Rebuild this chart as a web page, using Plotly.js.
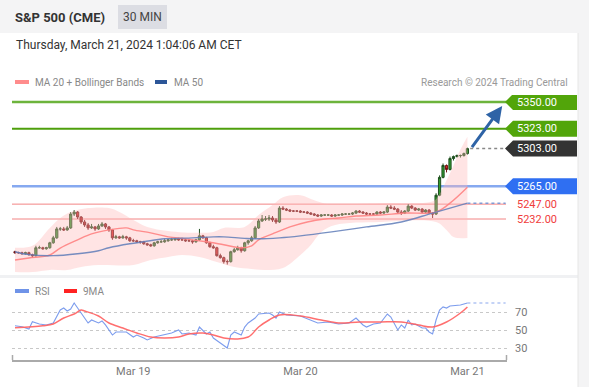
<!DOCTYPE html>
<html><head><meta charset="utf-8">
<script src="https://cdn.plot.ly/plotly-3.0.1.min.js"></script>
<style>html,body{margin:0;padding:0;background:#fff;overflow:hidden}#chart{width:589px;height:387px}</style>
</head><body><div id="chart"></div>
<script>
// ---------- data ----------
const opens = [5199,5198,5198,5197,5198,5196,5195,5203,5203,5202,
 5203,5208,5213,5222,5222,5221,5223,5237,5239,5234,
 5229,5226,5223,5224,5222,5225,5227,5224,5221,5213,
 5214,5213,5214,5213,5210,5210,5209,5209,5207,5206,
 5205,5208,5209,5209,5210,5211,5211,5212,5211,5211,
 5210,5210,5209,5211,5215,5213,5208,5204,5203,5195,
 5193,5189,5189,5199,5201,5203,5200,5208,5210,5213,
 5223,5230,5232,5232,5233,5231,5229,5243,5242,5241,
 5240,5240,5240,5239,5239,5238,5237,5236,5235,5236,
 5236,5236,5235,5236,5236,5237,5237,5237,5238,5240,
 5239,5238,5237,5237,5237,5239,5238,5239,5244,5243,
 5242,5239,5238,5240,5245,5243,5241,5242,5239,5241,
 5238,5237,5256,5274,5286,5282,5293,5295,5296,5296,
 5298];
const highs = [5200,5199,5199,5199,5199,5197,5205,5205,5204,5204,
 5209,5215,5224,5224,5224,5225,5239,5241,5240,5235,
 5231,5228,5227,5225,5227,5229,5228,5225,5222,5216,
 5215,5216,5215,5214,5212,5211,5210,5210,5208,5207,
 5209,5210,5211,5212,5212,5213,5213,5213,5213,5212,
 5212,5211,5212,5222,5216,5214,5209,5206,5204,5197,
 5194,5191,5200,5203,5205,5204,5209,5211,5215,5225,
 5232,5236,5235,5236,5235,5233,5245,5245,5243,5242,
 5241,5241,5241,5240,5240,5239,5238,5237,5237,5237,
 5237,5237,5237,5237,5238,5238,5238,5239,5241,5241,
 5240,5239,5238,5238,5240,5240,5240,5246,5246,5245,
 5243,5241,5241,5247,5246,5244,5243,5243,5242,5242,
 5239,5258,5276,5288,5287,5295,5296,5297,5297,5299,
 5304];
const lows = [5197,5197,5196,5196,5195,5193,5194,5202,5201,5201,
 5202,5207,5212,5220,5220,5220,5222,5235,5232,5227,
 5224,5221,5222,5220,5221,5224,5222,5219,5211,5212,
 5212,5212,5211,5209,5209,5208,5207,5206,5205,5204,
 5204,5207,5208,5208,5209,5210,5210,5210,5210,5209,
 5209,5207,5208,5210,5212,5207,5203,5202,5194,5192,
 5187,5186,5188,5198,5200,5198,5199,5206,5209,5212,
 5222,5229,5230,5230,5229,5227,5228,5241,5240,5239,
 5239,5239,5238,5238,5237,5236,5235,5234,5234,5235,
 5235,5234,5234,5235,5235,5236,5236,5236,5237,5238,
 5237,5236,5236,5236,5236,5237,5237,5238,5242,5241,
 5237,5236,5237,5239,5242,5240,5240,5238,5238,5237,
 5233,5236,5255,5273,5279,5281,5291,5294,5294,5295,
 5297];
const closes = [5198,5198,5197,5198,5196,5195,5203,5203,5202,5203,
 5208,5213,5222,5222,5221,5223,5237,5239,5234,5229,
 5226,5223,5224,5222,5225,5227,5224,5221,5213,5214,
 5213,5214,5213,5210,5210,5209,5209,5207,5206,5205,
 5208,5209,5209,5210,5211,5211,5212,5211,5211,5210,
 5210,5209,5211,5215,5213,5208,5204,5203,5195,5193,
 5189,5189,5199,5201,5203,5200,5208,5210,5213,5223,
 5230,5232,5232,5233,5231,5229,5243,5242,5241,5240,
 5240,5240,5239,5239,5238,5237,5236,5235,5236,5236,
 5236,5235,5236,5236,5237,5237,5237,5238,5240,5239,
 5238,5237,5237,5237,5239,5238,5239,5244,5243,5242,
 5239,5238,5240,5245,5243,5241,5242,5239,5241,5238,
 5237,5256,5274,5286,5282,5293,5295,5296,5296,5298,
 5303];

const ma20Idx = [0,4,10,13,18,22,27,32,34,39,44,49,55,60,65,68,70,74,79,84,89,93,98,105,112,121,125,130];
const ma20Val = [5190.6,5192.7,5195.7,5202.7,5211,5217,5221,5223,5221,5218,5214,5212,5209,5206,5203,5205,5211,5217,5224,5229,5232,5233,5235,5236,5238,5239,5248,5264];
const bbUpIdx = [0,5,10,13,16,21,27,30,34,38,44,53,57,60,66,70,74,77,82,86,90,95,105,119,121,124,126,128,130];
const bbUpVal = [5203,5205,5223,5233,5239,5243,5243,5239,5231,5224,5220,5218,5219,5223,5224,5236,5246,5254,5256,5251,5247,5247,5248,5249,5252,5271,5286,5302,5315];
const bbLoIdx = [0,5,10,15,19,24,34,39,44,48,53,58,63,68,72,77,82,85,88,92,105,121,124,126,130];
const bbLoVal = [5178.5,5178.5,5180.6,5180.6,5183.6,5185.6,5185.6,5190.6,5193.7,5195.7,5193.7,5188.6,5183.6,5181.6,5180.6,5182.6,5195.7,5205.8,5218.9,5225.9,5228.9,5228.9,5220.9,5213.8,5212.8];
const ma50Idx = [0,4,11,18,24,27,33,37,43,51,57,60,66,70,76,82,91,101,111,120,130];
const ma50Val = [5199,5196,5195,5197,5200,5203,5207,5209,5212,5213,5214,5214,5212.5,5212,5213,5215,5219,5224,5229,5238,5248];

const rsiIdx = [0,2,4,5,7,9,11,12,13,14,15,16,17,18,19,20,21,22,24,25,26,28,29,31,32,34,35,37,38,40,43,45,47,48,50,52,53,55,56,57,59,61,62,63,65,66,67,69,70,73,74,75,76,78,82,85,87,90,93,96,98,100,101,103,105,107,108,110,111,112,113,114,115,117,118,119,120,121,122,123,124,125,128,130];
const rsiVal = [54.8,53.7,51.1,59.2,56.7,55.6,57.8,64.8,72.2,74.4,71.1,73.3,80,74.4,68.9,64.4,57.8,61.1,57.8,60,55.6,44.4,47.8,47.8,47.8,42.2,44.4,41.1,38.9,42.2,44.4,46.7,50,45.6,46.7,44.4,53.3,45.6,47.8,41.1,35.6,30,44.4,47.8,44.4,53.3,57.8,63.3,67.8,68.9,66.7,63.3,70,66.7,65.6,61.1,57.8,58.9,56.7,57.8,63.3,55.6,53.3,56.7,57.8,67.8,64.4,50,55.6,52.2,61.1,55.6,56.7,52.2,52.2,47.8,45.6,61.1,72.2,75.6,74.4,76.7,77.8,80];
const ma9Idx = [0,8,11,14,17,19,20,24,27,31,35,39,43,47,50,54,57,60,64,67,68,70,73,76,82,88,93,99,105,111,116,120,124,128,130];
const ma9Val = [52.6,54.8,56.7,63.3,67.8,72.2,71.1,65.6,57.8,52.2,46.7,42.2,41.1,42.2,45.6,46.7,44.4,41.1,40,42.2,45,53.3,61.1,66.7,65.6,61.1,57.8,58.9,58.9,58.9,55.6,53.3,58.9,68.9,75.6];

const tickIdx = [34, 82, 130];
const tickLabels = ['Mar 19', 'Mar 20', 'Mar 21'];
const rsiTicks = [30, 50, 70];

const levelPrices = [5350, 5323, 5303, 5265, 5247, 5232];
const levelLabels = ['5350.00', '5323.00', '5303.00', '5265.00', '5247.00', '5232.00'];
const arrowFrom = {idx: 131, price: 5303};
const arrowTo = {idx: 140, price: 5346};
const lastIdx = closes.length - 1;

// ---------- layout helpers (pixel -> paper) ----------
const W = 589, H = 387;
const X = p => p / W, Y = p => 1 - p / H;
const FONT = 'Roboto, "Liberation Sans", Arial, sans-serif';
const xIdx = closes.map((_, i) => i);
const xr = [(12 - 15) / 3.48, (507 - 15) / 3.48];
const pxPerPt = 180 / (5357.1 - 5175.5);

const traces = [
  {type: 'scatter', x: bbUpIdx, y: bbUpVal, mode: 'lines', line: {width: 0, shape: 'spline'}, hoverinfo: 'skip', xaxis: 'x', yaxis: 'y'},
  {type: 'scatter', x: bbLoIdx, y: bbLoVal, mode: 'lines', line: {width: 0, shape: 'spline'}, fill: 'tonexty', fillcolor: 'rgba(255,185,185,0.38)', hoverinfo: 'skip', xaxis: 'x', yaxis: 'y'},
  {type: 'scatter', x: ma20Idx, y: ma20Val, mode: 'lines', line: {color: 'rgba(255,130,130,0.9)', width: 1.4, shape: 'spline'}, hoverinfo: 'skip', xaxis: 'x', yaxis: 'y'},
  {type: 'scatter', x: ma50Idx, y: ma50Val, mode: 'lines', line: {color: 'rgba(95,125,185,0.85)', width: 1.4, shape: 'spline'}, hoverinfo: 'skip', xaxis: 'x', yaxis: 'y'},
  {type: 'candlestick', x: xIdx, open: opens, high: highs, low: lows, close: closes,
   increasing: {line: {color: '#1f4f1f', width: 1}, fillcolor: '#2f9a2f'},
   decreasing: {line: {color: '#6e1212', width: 1}, fillcolor: '#d82222'},
   whiskerwidth: 0, hoverinfo: 'skip', xaxis: 'x', yaxis: 'y'},
  {type: 'scatter', x: rsiIdx, y: rsiVal, mode: 'lines', line: {color: 'rgba(110,145,235,0.9)', width: 1.1}, hoverinfo: 'skip', xaxis: 'x2', yaxis: 'y2'},
  {type: 'scatter', x: ma9Idx, y: ma9Val, mode: 'lines', line: {color: 'rgba(255,95,95,0.9)', width: 1.5, shape: 'spline'}, hoverinfo: 'skip', xaxis: 'x2', yaxis: 'y2'}
];

const shapes = [
  {type: 'rect', xref: 'paper', yref: 'paper', x0: 0, x1: 1, y0: Y(33), y1: 1, fillcolor: '#f4f4f5', line: {width: 0}, layer: 'below'},
  {type: 'rect', xref: 'paper', yref: 'paper', x0: X(578), x1: 1, y0: 0, y1: Y(33), fillcolor: '#f4f4f5', line: {width: 0}, layer: 'below'},
  {type: 'line', xref: 'paper', yref: 'paper', x0: X(578), x1: X(578), y0: 0, y1: Y(33), line: {color: '#e6e6e6', width: 1}},
  {type: 'rect', xref: 'paper', yref: 'paper', x0: 0, x1: X(578), y0: Y(278), y1: Y(275), fillcolor: '#f0f1f3', line: {width: 0}, layer: 'below'},
  {type: 'rect', xref: 'paper', yref: 'paper', x0: X(118), x1: X(167), y0: Y(29), y1: Y(5), fillcolor: '#dcdde3', line: {width: 0}},
  // legend swatches
  {type: 'rect', xref: 'paper', yref: 'paper', x0: X(15), x1: X(29), y0: Y(84), y1: Y(80), fillcolor: '#ff8c8c', line: {width: 0}},
  {type: 'rect', xref: 'paper', yref: 'paper', x0: X(155), x1: X(167), y0: Y(84), y1: Y(80), fillcolor: '#2c5698', line: {width: 0}},
  {type: 'rect', xref: 'paper', yref: 'paper', x0: X(15), x1: X(29), y0: Y(293), y1: Y(289), fillcolor: '#6f93e8', line: {width: 0}},
  {type: 'rect', xref: 'paper', yref: 'paper', x0: X(64), x1: X(77), y0: Y(293), y1: Y(289), fillcolor: '#ff2222', line: {width: 0}},
  // rsi axis end ticks
  {type: 'line', xref: 'paper', yref: 'paper', x0: X(12.5), x1: X(12.5), y0: Y(360), y1: Y(355), line: {color: '#aaa', width: 1.5}},
  {type: 'line', xref: 'paper', yref: 'paper', x0: X(506.5), x1: X(506.5), y0: Y(360), y1: Y(355), line: {color: '#aaa', width: 1.5}}
];

// level lines
const lineStyles = [
  {color: '#6db43c', width: 2.5, end: 508},
  {color: '#4e9f0c', width: 2, end: 508},
  null,
  {color: '#86a9f0', width: 2.5, end: 508},
  {color: 'rgba(240,110,110,0.85)', width: 1, end: 506},
  {color: 'rgba(240,110,110,0.85)', width: 1, end: 506}
];
levelPrices.forEach((p, k) => {
  const s = lineStyles[k];
  if (!s) return;
  shapes.push({type: 'line', xref: 'paper', yref: 'y', x0: X(12), x1: X(s.end), y0: p, y1: p, line: {color: s.color, width: s.width}, layer: 'below'});
});
// dotted extensions
shapes.push({type: 'line', xref: 'x', yref: 'y', x0: lastIdx + 0.8, x1: xr[1] - 0.4, y0: closes[lastIdx], y1: closes[lastIdx], line: {color: '#888', width: 1.5, dash: 'dot'}});
shapes.push({type: 'line', xref: 'x', yref: 'y', x0: lastIdx, x1: xr[1] - 0.4, y0: ma50Val[ma50Val.length - 1], y1: ma50Val[ma50Val.length - 1], line: {color: '#7f9ad4', width: 1.5, dash: 'dot'}});
shapes.push({type: 'line', xref: 'x2', yref: 'y2', x0: lastIdx, x1: xr[1] - 0.4, y0: rsiVal[rsiVal.length - 1], y1: rsiVal[rsiVal.length - 1], line: {color: '#8aa7ee', width: 1.2, dash: 'dot'}});

// label boxes
const boxColors = ['#52a50a', '#52a50a', '#333333', '#2f6ff2', null, null];
const half = 8 / pxPerPt;
const annotations = [];
levelPrices.forEach((p, k) => {
  const c = boxColors[k];
  if (c) {
    const path = `M ${X(505)},${p} L ${X(513)},${p + half} L ${X(577)},${p + half} L ${X(577)},${p - half} L ${X(513)},${p - half} Z`;
    shapes.push({type: 'path', xref: 'paper', yref: 'y', path: path, fillcolor: c, line: {width: 0}});
  }
  annotations.push({xref: 'paper', yref: 'y', x: X(515), y: p, xanchor: 'left', yanchor: 'middle', showarrow: false,
    text: levelLabels[k], font: {family: FONT, size: 11, color: c ? '#ffffff' : '#f03c3c'}});
});

annotations.push(
  {xref: 'paper', yref: 'paper', x: X(13), y: Y(17), xanchor: 'left', yanchor: 'middle', showarrow: false, text: '<b>S&P 500 (CME)</b>', font: {family: FONT, size: 13, color: '#333'}},
  {xref: 'paper', yref: 'paper', x: X(142.5), y: Y(17), xanchor: 'center', yanchor: 'middle', showarrow: false, text: '30 MIN', font: {family: FONT, size: 12, color: '#444'}},
  {xref: 'paper', yref: 'paper', x: X(14), y: Y(45), xanchor: 'left', yanchor: 'middle', showarrow: false, text: 'Thursday, March 21, 2024 1:04:06 AM CET', font: {family: FONT, size: 12, color: '#333'}},
  {xref: 'paper', yref: 'paper', x: X(33), y: Y(82), xanchor: 'left', yanchor: 'middle', showarrow: false, text: 'MA 20 + Bollinger Bands', font: {family: FONT, size: 10, color: '#888'}},
  {xref: 'paper', yref: 'paper', x: X(172), y: Y(82), xanchor: 'left', yanchor: 'middle', showarrow: false, text: 'MA 50', font: {family: FONT, size: 10, color: '#888'}},
  {xref: 'paper', yref: 'paper', x: X(570), y: Y(82), xanchor: 'right', yanchor: 'middle', showarrow: false, text: 'Research © 2024 Trading Central', font: {family: FONT, size: 10, color: '#999'}},
  {xref: 'paper', yref: 'paper', x: X(33), y: Y(291), xanchor: 'left', yanchor: 'middle', showarrow: false, text: 'RSI', font: {family: FONT, size: 10, color: '#888'}},
  {xref: 'paper', yref: 'paper', x: X(81), y: Y(291), xanchor: 'left', yanchor: 'middle', showarrow: false, text: '9MA', font: {family: FONT, size: 10, color: '#888'}},
  {xref: 'x', yref: 'y', x: arrowTo.idx, y: arrowTo.price, axref: 'x', ayref: 'y', ax: arrowFrom.idx, ay: arrowFrom.price,
   showarrow: true, text: '', arrowhead: 2, arrowsize: 1.1, arrowwidth: 3, arrowcolor: '#2e63a6'}
);

const layout = {
  width: W, height: H, margin: {l: 0, r: 0, t: 0, b: 0},
  paper_bgcolor: '#ffffff', plot_bgcolor: 'rgba(0,0,0,0)', showlegend: false,
  font: {family: FONT}, boxgap: 0.1,
  xaxis: {domain: [X(12), X(507)], range: xr, anchor: 'y', showticklabels: false, showgrid: false, zeroline: false, showline: false, ticks: '', rangeslider: {visible: false}, fixedrange: true},
  yaxis: {domain: [Y(275), Y(95)], range: [5175.5, 5357.1], anchor: 'x', showticklabels: false, showgrid: false, zeroline: false, ticks: '', fixedrange: true},
  xaxis2: {domain: [X(12), X(507)], range: xr, anchor: 'y2', showgrid: false, zeroline: false, showline: true, linecolor: '#aaa', linewidth: 1.5,
           tickmode: 'array', tickvals: tickIdx, ticktext: tickLabels, ticks: '', tickfont: {family: FONT, size: 11, color: '#777'}, fixedrange: true},
  yaxis2: {domain: [Y(360), Y(298)], range: [16.67, 85.56], anchor: 'x2', side: 'right', showgrid: true, gridcolor: '#c8c8c8', griddash: 'dot', gridwidth: 1,
           zeroline: false, tickmode: 'array', tickvals: rsiTicks, ticks: '', ticklabelstandoff: 7, tickfont: {family: FONT, size: 11, color: '#777'}, fixedrange: true},
  shapes: shapes, annotations: annotations
};

Plotly.newPlot('chart', traces, layout, {staticPlot: true, displayModeBar: false});
</script></body></html>
